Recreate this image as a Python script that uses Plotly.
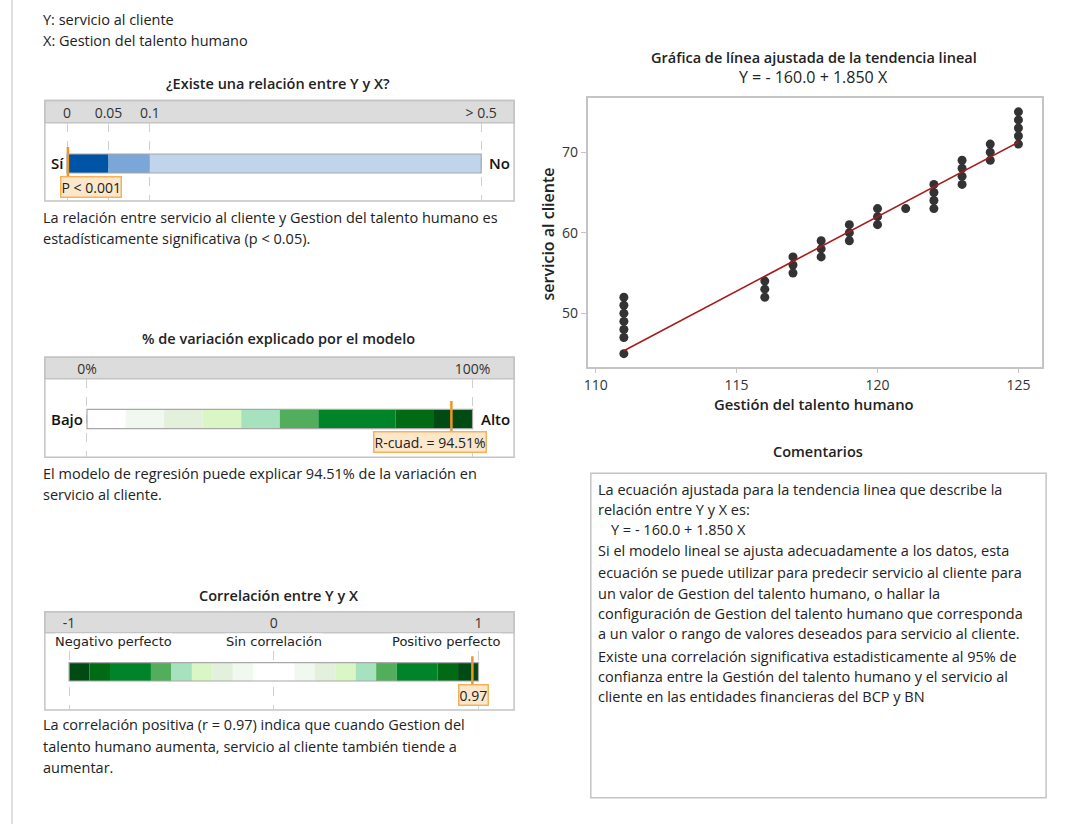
import plotly.graph_objects as go

W, H = 1076, 824

# ---------------- data ----------------
gestion = [111, 111, 111, 111, 111, 111, 111,
           116, 116, 116, 117, 117, 117, 118, 118, 118,
           119, 119, 119, 120, 120, 120, 121,
           122, 122, 122, 122, 123, 123, 123, 123,
           124, 124, 124, 125, 125, 125, 125, 125]
servicio = [52, 51, 50, 49, 48, 47, 45,
            54, 53, 52, 57, 56, 55, 59, 58, 57,
            61, 60, 59, 63, 62, 61, 63,
            66, 65, 64, 63, 69, 68, 67, 66,
            71, 70, 69, 75, 74, 73, 72, 71]
intercept = -160.0
slope = 1.850

p_value = 0.001
p_label = "P < 0.001"
p_breaks = [0, 0.05, 0.1, 0.5]
p_scale_pos = [0, 1, 2, 10]          # display positions of the p-value scale
p_tick_labels = ["0", "0.05", "0.1", "> 0.5"]
p_colors = ["#0054A6", "#7BA7D8", "#C0D4EC"]

r2_value = 94.51
r2_breaks = [0, 10, 20, 30, 40, 50, 60, 80, 90, 100]
r2_colors = ["#FFFFFF", "#F1F8EF", "#E3F0DC", "#DBF6C5", "#A6E2BD",
             "#52AD5C", "#00842A", "#006B14", "#004B14"]
r2_tick_vals = [0, 100]
r2_tick_labels = ["0%", "100%"]

r_value = 0.97
r_breaks = [-1, -0.9, -0.8, -0.6, -0.5, -0.4, -0.3, -0.2, -0.1,
            0.1, 0.2, 0.3, 0.4, 0.5, 0.6, 0.8, 0.9, 1]
r_colors = ["#004B14", "#006B14", "#00842A", "#52AD5C", "#A6E2BD", "#DBF6C5",
            "#E3F0DC", "#F1F8EF", "#FFFFFF", "#F1F8EF", "#E3F0DC", "#DBF6C5",
            "#A6E2BD", "#52AD5C", "#00842A", "#006B14", "#004B14"]
r_tick_vals = [-1, 0, 1]
r_tick_labels = ["-1", "0", "1"]
r_sub_labels = ["Negativo perfecto", "Sin correlación", "Positivo perfecto"]


def p_to_pos(p):
    for i in range(len(p_breaks) - 1):
        if p <= p_breaks[i + 1]:
            f = (p - p_breaks[i]) / (p_breaks[i + 1] - p_breaks[i])
            return p_scale_pos[i] + f * (p_scale_pos[i + 1] - p_scale_pos[i])
    return p_scale_pos[-1]


# ---------------- helpers (layout only) ----------------
def X(px):
    return px / W


def Y(py):
    return 1 - py / H


FONT = "Open Sans"
TXT = "#222222"
ORANGE = "#F7941D"
LBL_FILL = "#FCE7CB"
LBL_LINE = "#F4B25A"
BOX_LINE = "#C4C4C4"
HEAD_FILL = "#DCDCDC"
GRID = "#CFCFCF"
FS = 14.5
LSHIFT = -4

fig = go.Figure()
shapes = []
ann = []


def text(x, y, s, size=FS, bold=False, anchor="left", color=TXT, family=FONT, **kw):
    if anchor == "left":
        x = x + LSHIFT
    ann.append(dict(x=X(x), y=Y(y), xref="paper", yref="paper", text=s,
                    showarrow=False, xanchor=anchor, yanchor="middle",
                    font=dict(family=family, size=size, color=color,
                              weight=600 if bold else 400), **kw))


def value_label(x, y, s):
    ann.append(dict(x=X(x), y=Y(y), xref="paper", yref="paper", text=s,
                    showarrow=False, xanchor="center", yanchor="middle",
                    font=dict(family=FONT, size=14, color=TXT),
                    bgcolor=LBL_FILL, bordercolor=LBL_LINE, borderwidth=1.5,
                    borderpad=0))


def gauge_box(top, head_bottom, bottom, left=41, right=512):
    shapes.append(dict(type="rect", xref="paper", yref="paper", x0=X(left), x1=X(right),
                       y0=Y(head_bottom), y1=Y(top), fillcolor=HEAD_FILL,
                       line=dict(color=BOX_LINE, width=1.5), layer="below"))
    shapes.append(dict(type="rect", xref="paper", yref="paper", x0=X(left), x1=X(right),
                       y0=Y(bottom), y1=Y(top), fillcolor="rgba(0,0,0,0)",
                       line=dict(color=BOX_LINE, width=1.5), layer="below"))


def gauge_axes(n, v_left_px, v0, v_right_px, v1, head_bottom, bottom, bar_top, bar_bot,
               tickvals, ticktext, left=41, right=512, tickfamily=FONT):
    scale = (v_right_px - v_left_px) / (v1 - v0)
    xr = [v0 - (v_left_px - left) / scale, v1 + (right - v_right_px) / scale]
    hpx = bar_bot - bar_top
    center = (bar_top + bar_bot) / 2
    yr = [-(bottom - center) / hpx, (center - head_bottom) / hpx]
    fig.update_layout(**{
        f"xaxis{n}": dict(domain=[X(left), X(right)], range=xr, anchor=f"y{n}",
                          side="top", tickvals=tickvals, ticktext=ticktext,
                          showgrid=True, griddash="dash", gridcolor=GRID, gridwidth=1,
                          zeroline=False, showline=False, ticks="",
                          tickfont=dict(family=tickfamily, size=14, color="#333333"),
                          ticklabelstandoff=1, fixedrange=True),
        f"yaxis{n}": dict(domain=[Y(bottom), Y(head_bottom)], range=yr, anchor=f"x{n}",
                          visible=False, fixedrange=True),
    })
    return xr


# ---------------- scatter (fitted line plot) ----------------
fig.add_trace(go.Scatter(x=gestion, y=servicio, mode="markers",
                         marker=dict(size=9, color="#333333"),
                         xaxis="x", yaxis="y", showlegend=False, hoverinfo="x+y"))
x_fit = [min(gestion), max(gestion)]
y_fit = [intercept + slope * v for v in x_fit]
fig.add_trace(go.Scatter(x=x_fit, y=y_fit, mode="lines",
                         line=dict(color="#A61C1C", width=1.6),
                         xaxis="x", yaxis="y", showlegend=False))

ax_common = dict(showline=True, mirror=True, linecolor=BOX_LINE, linewidth=1.5,
                 ticks="outside", ticklen=5, tickcolor=BOX_LINE, showgrid=False,
                 zeroline=False, tickfont=dict(family=FONT, size=14, color="#333333"))
fig.update_layout(
    xaxis=dict(domain=[X(585.7), X(1041.7)], range=[109.71, 125.83], anchor="y",
               tickvals=[110, 115, 120, 125], **ax_common),
    yaxis=dict(domain=[Y(366.7), Y(97.5)], range=[43.38, 76.78], anchor="x",
               tickvals=[50, 60, 70], **ax_common),
)

# ---------------- gauge 1: p-value ----------------
gauge_box(100.5, 122.7, 201)
gauge_axes(2, 63.3, 0, 479, 10, 122.7, 201, 154, 173, p_scale_pos, p_tick_labels)
p_pos = [p_to_pos(b) for b in p_breaks]
fig.add_trace(go.Bar(orientation="h", y=[0] * (len(p_pos) - 1),
                     base=p_pos[:-1], x=[p_pos[i + 1] - p_pos[i] for i in range(len(p_pos) - 1)],
                     marker=dict(color=p_colors, line=dict(width=0)), width=1,
                     xaxis="x2", yaxis="y2", showlegend=False, hoverinfo="skip"))
shapes.append(dict(type="rect", xref="x2", yref="y2", x0=p_pos[0], x1=p_pos[-1],
                   y0=-0.5, y1=0.5, line=dict(color="#A8A8A8", width=1.2)))
pm = p_to_pos(p_value)
fig.add_trace(go.Scatter(x=[pm, pm], y=[-0.87, 0.87], mode="lines",
                         line=dict(color=ORANGE, width=2.5), xaxis="x2", yaxis="y2",
                         showlegend=False, hoverinfo="skip"))
text(54, 163.5, "Sí", size=15, bold=True, anchor="center", color="#111111")
text(497, 163.5, "No", size=15, bold=True, anchor="center", color="#111111")
value_label(87, 187, p_label)

# ---------------- gauge 2: R-squared ----------------
gauge_box(357.3, 378.7, 457.3)
gauge_axes(3, 83.3, 0, 470.3, 100, 378.7, 457.3, 409.3, 428.7, r2_tick_vals, r2_tick_labels)
fig.add_trace(go.Bar(orientation="h", y=[0] * (len(r2_breaks) - 1),
                     base=r2_breaks[:-1],
                     x=[r2_breaks[i + 1] - r2_breaks[i] for i in range(len(r2_breaks) - 1)],
                     marker=dict(color=r2_colors, line=dict(width=0)), width=1,
                     xaxis="x3", yaxis="y3", showlegend=False, hoverinfo="skip"))
shapes.append(dict(type="rect", xref="x3", yref="y3", x0=r2_breaks[0], x1=r2_breaks[-1],
                   y0=-0.5, y1=0.5, line=dict(color="#A8A8A8", width=1.2)))
fig.add_trace(go.Scatter(x=[r2_value, r2_value], y=[-0.83, 0.93], mode="lines",
                         line=dict(color=ORANGE, width=2.5), xaxis="x3", yaxis="y3",
                         showlegend=False, hoverinfo="skip"))
text(63.7, 419, "Bajo", size=15, bold=True, anchor="center", color="#111111")
text(493, 419, "Alto", size=15, bold=True, anchor="center", color="#111111")
value_label(428, 442.5, f"R-cuad. = {r2_value:.2f}%")

# ---------------- gauge 3: correlation ----------------
gauge_box(611.7, 632.7, 710)
gauge_axes(4, 65.3, -1, 476.3, 1, 632.7, 710, 662.7, 681, r_tick_vals, r_tick_labels)
fig.add_trace(go.Bar(orientation="h", y=[0] * (len(r_breaks) - 1),
                     base=r_breaks[:-1],
                     x=[r_breaks[i + 1] - r_breaks[i] for i in range(len(r_breaks) - 1)],
                     marker=dict(color=r_colors, line=dict(width=0)), width=1,
                     xaxis="x4", yaxis="y4", showlegend=False, hoverinfo="skip"))
shapes.append(dict(type="rect", xref="x4", yref="y4", x0=r_breaks[0], x1=r_breaks[-1],
                   y0=-0.5, y1=0.5, line=dict(color="#A8A8A8", width=1.2)))
fig.add_trace(go.Scatter(x=[r_value, r_value], y=[-0.85, 0.85], mode="lines",
                         line=dict(color=ORANGE, width=2.5), xaxis="x4", yaxis="y4",
                         showlegend=False, hoverinfo="skip"))
for cx, s in zip([110, 270.7, 444], r_sub_labels):
    text(cx, 641, s, size=13, anchor="center", family="DejaVu Sans", color="#222222",
         bgcolor="white", borderpad=0)
value_label(471, 694.5, f"{r_value:.2f}")

# ---------------- text ----------------
text(41, 20, "Y: servicio al cliente")
text(41, 40.7, "X: Gestion del talento humano")
text(275.5, 83.5, "¿Existe una relación entre Y y X?", bold=True, anchor="center")
text(41, 217.3, "La relación entre servicio al cliente y Gestion del talento humano es")
text(41, 239, "estadísticamente significativa (p < 0.05).")
text(275.5, 338.5, "% de variación explicado por el modelo", bold=True, anchor="center")
text(41, 473.3, "El modelo de regresión puede explicar 94.51% de la variación en")
text(41, 494.5, "servicio al cliente.")
text(275.5, 595, "Correlación entre Y y X", bold=True, anchor="center")
text(41, 724.5, "La correlación positiva (r = 0.97) indica que cuando Gestion del")
text(41, 746, "talento humano aumenta, servicio al cliente también tiende a")
text(41, 767, "aumentar.")

text(813, 57, "Gráfica de línea ajustada de la tendencia lineal", bold=True, anchor="center")
text(813, 77, f"Y = - {abs(intercept):.1f} + {slope:.3f} X", size=16, anchor="center")
text(813, 403.5, "Gestión del talento humano", size=14.8, bold=True, anchor="center")
ann.append(dict(x=X(546.5), y=Y(234), xref="paper", yref="paper",
                text="servicio al cliente", showarrow=False, textangle=-90,
                xanchor="center", yanchor="middle",
                font=dict(family=FONT, size=16, color=TXT, weight=600)))

text(817, 451.7, "Comentarios", bold=True, anchor="center")
shapes.append(dict(type="rect", xref="paper", yref="paper", x0=X(589), x1=X(1046),
                   y0=Y(797.7), y1=Y(473.3), line=dict(color=BOX_LINE, width=1.5),
                   fillcolor="rgba(0,0,0,0)", layer="below"))
comment_lines = [
    "La ecuación ajustada para la tendencia linea que describe la",
    "relación entre Y y X es:",
    f"Y = - {abs(intercept):.1f} + {slope:.3f} X",
    "Si el modelo lineal se ajusta adecuadamente a los datos, esta",
    "ecuación se puede utilizar para predecir servicio al cliente para",
    "un valor de Gestion del talento humano, o hallar la",
    "configuración de Gestion del talento humano que corresponda",
    "a un valor o rango de valores deseados para servicio al cliente.",
    "Existe una correlación significativa estadisticamente al 95% de",
    "confianza entre la Gestión del talento humano y el servicio al",
    "cliente en las entidades financieras del BCP y BN",
]
comment_y = [489.3, 510, 529.5, 550.7, 572, 593, 613.3, 633.7, 656, 676, 696.3]
for i, (s, yy) in enumerate(zip(comment_lines, comment_y)):
    text(611.7 if i == 2 else 598.3, yy, s)

# left rule
shapes.append(dict(type="line", xref="paper", yref="paper", x0=X(8), x1=X(8),
                   y0=0, y1=1, line=dict(color="#D4D4D4", width=1.5), layer="below"))

fig.update_layout(
    width=W, height=H, margin=dict(l=0, r=0, t=0, b=0),
    paper_bgcolor="white", plot_bgcolor="rgba(0,0,0,0)",
    barmode="overlay", showlegend=False,
    shapes=shapes, annotations=ann,
    font=dict(family=FONT, color=TXT),
)

fig.write_html("out.html", config={"displayModeBar": False})
